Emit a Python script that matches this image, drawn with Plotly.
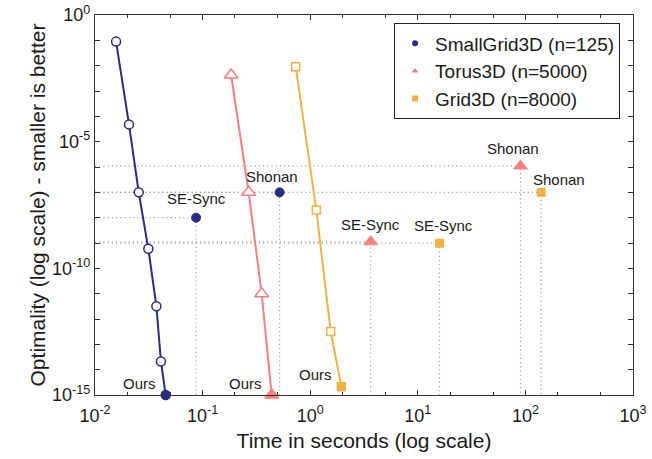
import plotly.graph_objects as go
import math

# ---------------- data ----------------
series_names = ["SmallGrid3D (n=125)", "Torus3D (n=5000)", "Grid3D (n=8000)"]
colors = ["#272c8c", "#fb7f7f", "#f3b142"]
symbols = ["circle", "triangle-up", "square"]

ours_time = [
    [0.0157, 0.0207, 0.0255, 0.0313, 0.0372, 0.0410, 0.0454],
    [0.184, 0.268, 0.354, 0.4385],
    [0.733, 1.14, 1.55, 1.95],
]
ours_opt = [
    [8.9e-2, 4.8e-5, 1.0e-7, 5.9e-10, 3.2e-12, 2.1e-14, 1.0e-15],
    [4.3e-3, 1.0e-7, 1.0e-11, 1.0e-15],
    [9.1e-3, 2.0e-8, 3.2e-13, 2.1e-15],
]

sesync_time = [0.087, 3.65, 15.9]
sesync_opt = [1.0e-8, 1.12e-9, 9.8e-10]
shonan_time = [0.52, 90.0, 140.0]
shonan_opt = [1.0e-7, 1.1e-6, 1.0e-7]

x_ticks = [1e-2, 1e-1, 1e0, 1e1, 1e2, 1e3]
x_ticktext = ["10<sup>-2</sup>", "10<sup>-1</sup>", "10<sup>0</sup>",
              "10<sup>1</sup>", "10<sup>2</sup>", "10<sup>3</sup>"]
y_decades = list(range(0, -16, -1))

XMIN, YMIN = 1e-2, 1e-15
marker_sizes = [9, 12, 8]
font = "Liberation Sans, Arial, Helvetica, sans-serif"
txt = "#1a1a1a"

fig = go.Figure()

# dotted guide lines
for i in range(3):
    for (tx, ty) in [(sesync_time[i], sesync_opt[i]), (shonan_time[i], shonan_opt[i])]:
        fig.add_trace(go.Scatter(x=[XMIN, tx, tx], y=[ty, ty, YMIN], mode="lines",
                                 line=dict(color="#a0a0a0", width=1.2, dash="1.2px,3px"),
                                 showlegend=False, hoverinfo="skip"))

# curves
for i in range(3):
    n = len(ours_time[i])
    fills = ["white"] * (n - 1) + [colors[i]]
    fig.add_trace(go.Scatter(
        x=ours_time[i], y=ours_opt[i], mode="lines+markers",
        line=dict(color=colors[i], width=2),
        marker=dict(symbol=symbols[i], size=marker_sizes[i], color=fills,
                    line=dict(color=colors[i], width=1.5)),
        showlegend=False, cliponaxis=False))
    fig.add_trace(go.Scatter(
        x=[sesync_time[i], shonan_time[i]], y=[sesync_opt[i], shonan_opt[i]],
        mode="markers",
        marker=dict(symbol=symbols[i], size=marker_sizes[i], color=colors[i],
                    line=dict(color=colors[i], width=1)),
        showlegend=False, cliponaxis=False))

# legend-only traces
for i in range(3):
    fig.add_trace(go.Scatter(
        x=[None], y=[None], mode="markers", name=series_names[i],
        marker=dict(symbol=symbols[i], size=6, color=colors[i])))

# annotations
def ann(x, y, text, xshift=0, yshift=0):
    fig.add_annotation(x=math.log10(x), y=math.log10(y), text=text, showarrow=False,
                       xref="x", yref="y", xshift=xshift, yshift=yshift,
                       font=dict(size=15, color=txt, family=font))

for i in range(3):
    ann(ours_time[i][-1], ours_opt[i][-1], "Ours", xshift=-26, yshift=12)
ann(sesync_time[0], sesync_opt[0], "SE-Sync", yshift=19)
ann(shonan_time[0], shonan_opt[0], "Shonan", xshift=-8, yshift=16)
ann(sesync_time[1], sesync_opt[1], "SE-Sync", yshift=17)
ann(sesync_time[2], sesync_opt[2], "SE-Sync", xshift=4, yshift=18)
ann(shonan_time[1], shonan_opt[1], "Shonan", xshift=-7, yshift=17)
ann(shonan_time[2], shonan_opt[2], "Shonan", xshift=18, yshift=13)

axis_common = dict(showline=True, linecolor="#333333", linewidth=1.2, mirror="allticks",
                   ticks="inside", tickcolor="#333333", ticklen=5, tickwidth=1,
                   showgrid=False, zeroline=False, automargin=False,
                   tickfont=dict(size=18, color=txt, family=font))

fig.update_xaxes(type="log", range=[-2, 3], tickvals=x_ticks, ticktext=x_ticktext,
                 minor=dict(ticks="inside", ticklen=3, tickcolor="#333333", showgrid=False),
                 ticklabelstandoff=4,
                 title=dict(text="Time in seconds (log scale)",
                            font=dict(size=21, color=txt, family=font), standoff=8),
                 **axis_common)
fig.update_yaxes(type="log", range=[-15, 0],
                 tickvals=[10.0 ** d for d in y_decades],
                 ticktext=[("10<sup>%d</sup>" % d) if d % 5 == 0 else "" for d in y_decades],
                 title=dict(text="Optimality (log scale) - smaller is better",
                            font=dict(size=21, color=txt, family=font), standoff=0),
                 **axis_common)

fig.update_layout(
    width=652, height=459,
    margin=dict(l=95, r=19, t=15, b=64),
    paper_bgcolor="white", plot_bgcolor="white",
    font=dict(family=font, color=txt),
    legend=dict(x=0.976, y=0.978, xanchor="right", yanchor="top",
                bordercolor="#222222", borderwidth=1, bgcolor="white",
                font=dict(size=19, color=txt, family=font),
                itemsizing="trace", tracegroupgap=0),
)

fig.write_html("out.html", config={"displayModeBar": False})

# remove the browser's default page margin so the figure sits at the window origin
with open("out.html", "r", encoding="utf-8") as f:
    html = f.read()
html = html.replace("<head>", "<head><style>html,body{margin:0;padding:0;overflow:hidden;}</style>", 1)
with open("out.html", "w", encoding="utf-8") as f:
    f.write(html)
